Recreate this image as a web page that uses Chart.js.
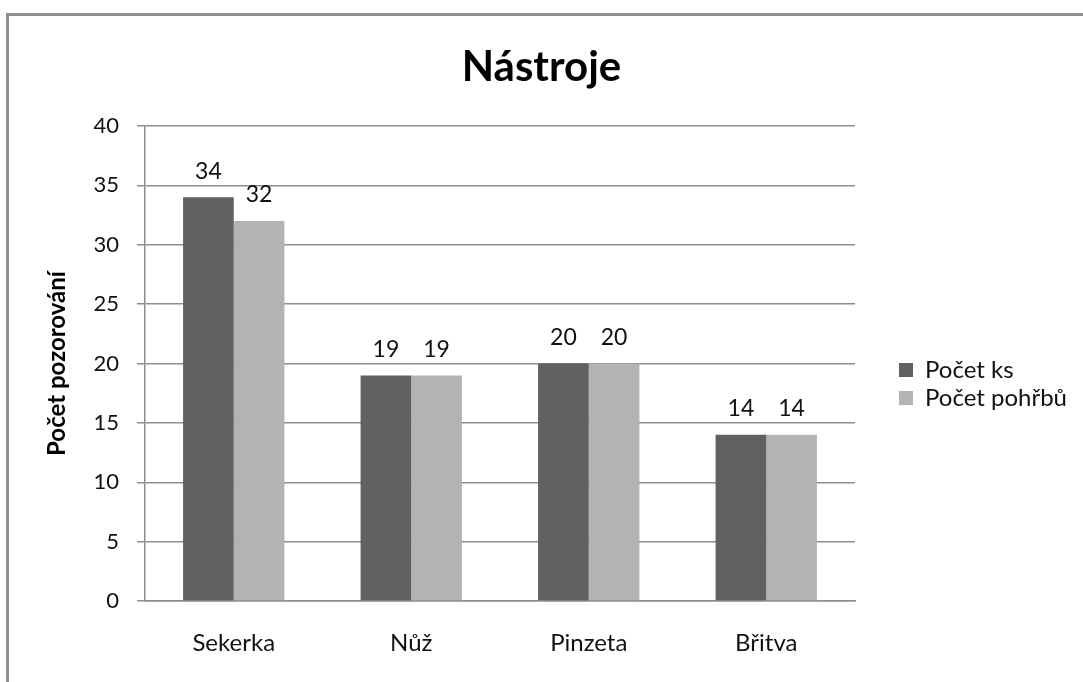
<!DOCTYPE html>
<html>
<head>
<meta charset="utf-8">
<script src="https://cdn.jsdelivr.net/npm/chart.js@4.4.1/dist/chart.umd.min.js"></script>
<style>
  html, body { margin: 0; padding: 0; background: #fff; overflow: hidden; }
  #wrap { position: relative; width: 1083px; height: 682px; }
  #frame { position: absolute; left: 6px; top: 13px; width: 2000px; height: 2000px;
           border-left: 3px solid #8e8e8e; border-top: 3px solid #8e8e8e; pointer-events: none; }
  canvas { position: absolute; left: 0; top: 0; }
</style>
</head>
<body>
<div id="wrap">
  <canvas id="c" width="1083" height="682"></canvas>
  <div id="frame"></div>
</div>
<script>
const categories = ['Sekerka', 'Nůž', 'Pinzeta', 'Břitva'];
const seriesNames = ['Počet ks', 'Počet pohřbů'];
const pocetKs = [34, 19, 20, 14];
const pocetPohrbu = [32, 19, 20, 14];
const yTicks = { min: 0, max: 40, step: 5 };

const FONT = 'Lato, "Open Sans", sans-serif';

const dataLabels = {
  id: 'dataLabels',
  afterDatasetsDraw(chart) {
    const ctx = chart.ctx;
    ctx.save();
    ctx.font = '23px ' + FONT;
    ctx.fillStyle = '#111';
    ctx.textAlign = 'center';
    ctx.textBaseline = 'middle';
    chart.data.datasets.forEach((ds, di) => {
      const meta = chart.getDatasetMeta(di);
      meta.data.forEach((el, i) => {
        ctx.fillText(String(ds.data[i]), el.x, el.y - 26);
      });
    });
    ctx.restore();
  }
};

const legendPlace = {
  id: 'legendPlace',
  beforeInit(chart) {
    const lg = chart.legend;
    if (lg) {
      const fit = lg.fit;
      lg.fit = function () { fit.call(this); this.width = 228; };
    }
  },
  afterLayout(chart) {
    const lg = chart.legend;
    lg.left += 40; lg.right += 40;
    lg.top += 43; lg.bottom += 43;
  }
};

new Chart(document.getElementById('c'), {
  type: 'bar',
  data: {
    labels: categories,
    datasets: [
      { label: seriesNames[0], data: pocetKs, backgroundColor: '#616161' },
      { label: seriesNames[1], data: pocetPohrbu, backgroundColor: '#b3b3b3' }
    ]
  },
  options: {
    responsive: false,
    animation: false,
    devicePixelRatio: 1,
    layout: { padding: 0 },
    datasets: { bar: { categoryPercentage: 0.571, barPercentage: 1 } },
    plugins: {
      title: {
        display: true,
        text: 'Nástroje',
        color: '#000',
        font: { family: FONT, size: 42, weight: 'bold' },
        padding: { top: 41.8, bottom: 33.8 }
      },
      legend: {
        display: true,
        position: 'right',
        labels: {
          boxWidth: 14, boxHeight: 14, padding: 4,
          color: '#111',
          font: { family: FONT, size: 24 }
        }
      },
      tooltip: { enabled: false }
    },
    scales: {
      x: {
        grid: { display: false },
        border: { display: true, color: '#8d8d8d', width: 1.5 },
        ticks: { color: '#111', font: { family: FONT, size: 24 }, padding: 20 },
        afterFit(s) { s.height = 81; }
      },
      y: {
        min: yTicks.min, max: yTicks.max,
        ticks: { stepSize: yTicks.step, color: '#111', font: { family: FONT, size: 22 }, padding: 18 },
        grid: { color: '#8d8d8d', lineWidth: 1.5, tickLength: 8, drawTicks: true },
        border: { display: true, color: '#8d8d8d', width: 1.5 },
        title: {
          display: true,
          text: 'Počet pozorování',
          color: '#000',
          font: { family: FONT, size: 24, weight: 'bold' },
          padding: { top: 43, bottom: 0 }
        },
        afterFit(s) { s.width = 145; }
      }
    }
  },
  plugins: [dataLabels, legendPlace]
});
</script>
</body>
</html>
